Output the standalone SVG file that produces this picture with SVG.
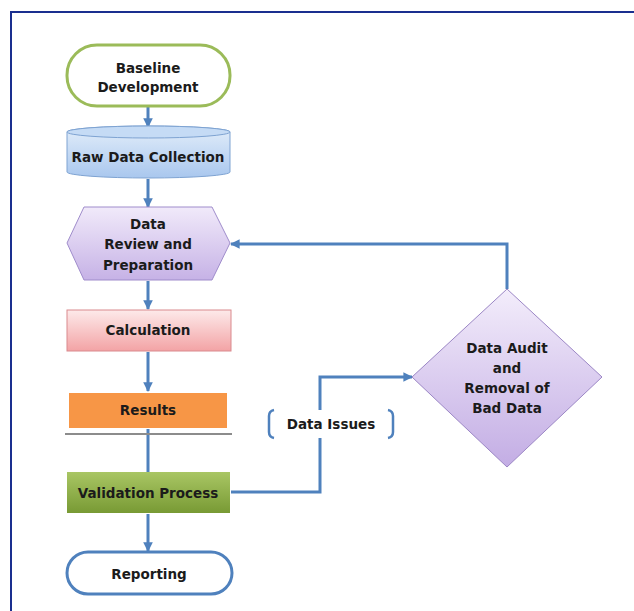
<svg xmlns="http://www.w3.org/2000/svg" width="634" height="611" viewBox="0 0 634 611">
<defs>
<linearGradient id="gBlue" x1="0" y1="0" x2="0" y2="1"><stop offset="0" stop-color="#e3eefa"/><stop offset="1" stop-color="#a9c7ee"/></linearGradient>
<linearGradient id="gPurple" x1="0" y1="0" x2="0" y2="1"><stop offset="0" stop-color="#f1eafa"/><stop offset="1" stop-color="#c6b2e6"/></linearGradient>
<linearGradient id="gPink" x1="0" y1="0" x2="0" y2="1"><stop offset="0" stop-color="#fdeaea"/><stop offset="1" stop-color="#f3a3a5"/></linearGradient>
<linearGradient id="gGreen" x1="0" y1="0" x2="0" y2="1"><stop offset="0" stop-color="#a9c664"/><stop offset="1" stop-color="#789a34"/></linearGradient>
<linearGradient id="gDiamond" x1="0" y1="0" x2="0" y2="1"><stop offset="0" stop-color="#f3edfb"/><stop offset="1" stop-color="#c3ade4"/></linearGradient>
<marker id="arr" viewBox="0 0 10 10" refX="9" refY="5" markerWidth="3.2" markerHeight="3.2" orient="auto" markerUnits="strokeWidth"><path d="M0,0 L10,5 L0,10 z" fill="#4f81bd"/></marker>
</defs>
<style>
text{font-family:"DejaVu Sans",Verdana,sans-serif;font-weight:bold;font-size:13.5px;fill:#1b1b1b;text-anchor:middle}
.conn{fill:none;stroke:#4f81bd;stroke-width:3}
.ar{marker-end:url(#arr)}
</style>
<rect width="634" height="611" fill="#ffffff"/>
<path d="M11,611 V12 H634" fill="none" stroke="#1a2f8f" stroke-width="2"/>
<g id="connectors">
<line class="conn ar" x1="148" y1="107" x2="148" y2="127"/>
<line class="conn ar" x1="148" y1="179" x2="148" y2="207"/>
<line class="conn ar" x1="148" y1="281" x2="148" y2="309"/>
<line class="conn ar" x1="148" y1="352" x2="148" y2="391"/>
<line class="conn" x1="148" y1="429" x2="148" y2="472"/>
<line class="conn ar" x1="148" y1="514" x2="148" y2="551"/>
<polyline class="conn" points="231,492 320,492 320,438"/>
<polyline class="conn ar" points="320,410 320,377 412,377"/>
<polyline class="conn ar" points="507,289 507,244 231,244"/>
<path d="M274,410 Q269,411 269,416 V432 Q269,437 274,438" fill="none" stroke="#4f81bd" stroke-width="2.5"/>
<path d="M388,410 Q393,411 393,416 V432 Q393,437 388,438" fill="none" stroke="#4f81bd" stroke-width="2.5"/>
<text x="331" y="429">Data Issues</text>
</g>
<line x1="65" y1="434" x2="232" y2="434" stroke="#8c8c8c" stroke-width="2"/>
<g id="baseline">
<rect x="67" y="45" width="163" height="61" rx="30" fill="#ffffff" stroke="#9bbb59" stroke-width="3"/>
<text x="148" y="73">Baseline</text>
<text x="148" y="92">Development</text>
</g>
<g id="raw">
<path d="M67,132 V172 A81.5,6 0 0 0 230,172 V132 A81.5,6 0 0 0 67,132 Z" fill="url(#gBlue)" stroke="#7ea3d2" stroke-width="1"/>
<ellipse cx="148.5" cy="132" rx="81.5" ry="6" fill="#c5dbf5" stroke="#7ea3d2" stroke-width="1"/>
<text x="148" y="162">Raw Data Collection</text>
</g>
<g id="review">
<polygon points="67,243 84,207 212,207 230,243 212,280 84,280" fill="url(#gPurple)" stroke="#9f8ccb" stroke-width="1"/>
<text x="148" y="229">Data</text>
<text x="148" y="249">Review and</text>
<text x="148" y="270">Preparation</text>
</g>
<g id="calc">
<rect x="67" y="310" width="164" height="41" fill="url(#gPink)" stroke="#d98a8e" stroke-width="1"/>
<text x="148" y="335">Calculation</text>
</g>
<g id="results">
<rect x="69" y="393" width="158" height="35" fill="#f79646"/>
<text x="148" y="415">Results</text>
</g>
<g id="validation">
<rect x="67" y="472" width="163" height="41" fill="url(#gGreen)"/>
<text x="148" y="498">Validation Process</text>
</g>
<g id="reporting">
<rect x="67" y="552" width="165" height="42" rx="21" fill="#ffffff" stroke="#4f81bd" stroke-width="3"/>
<text x="149" y="579">Reporting</text>
</g>
<g id="audit">
<polygon points="507,289 602,377 507,467 412,377" fill="url(#gDiamond)" stroke="#9b86c5" stroke-width="1"/>
<text x="507" y="353">Data Audit</text>
<text x="507" y="373">and</text>
<text x="507" y="393">Removal of</text>
<text x="507" y="413">Bad Data</text>
</g>
</svg>
